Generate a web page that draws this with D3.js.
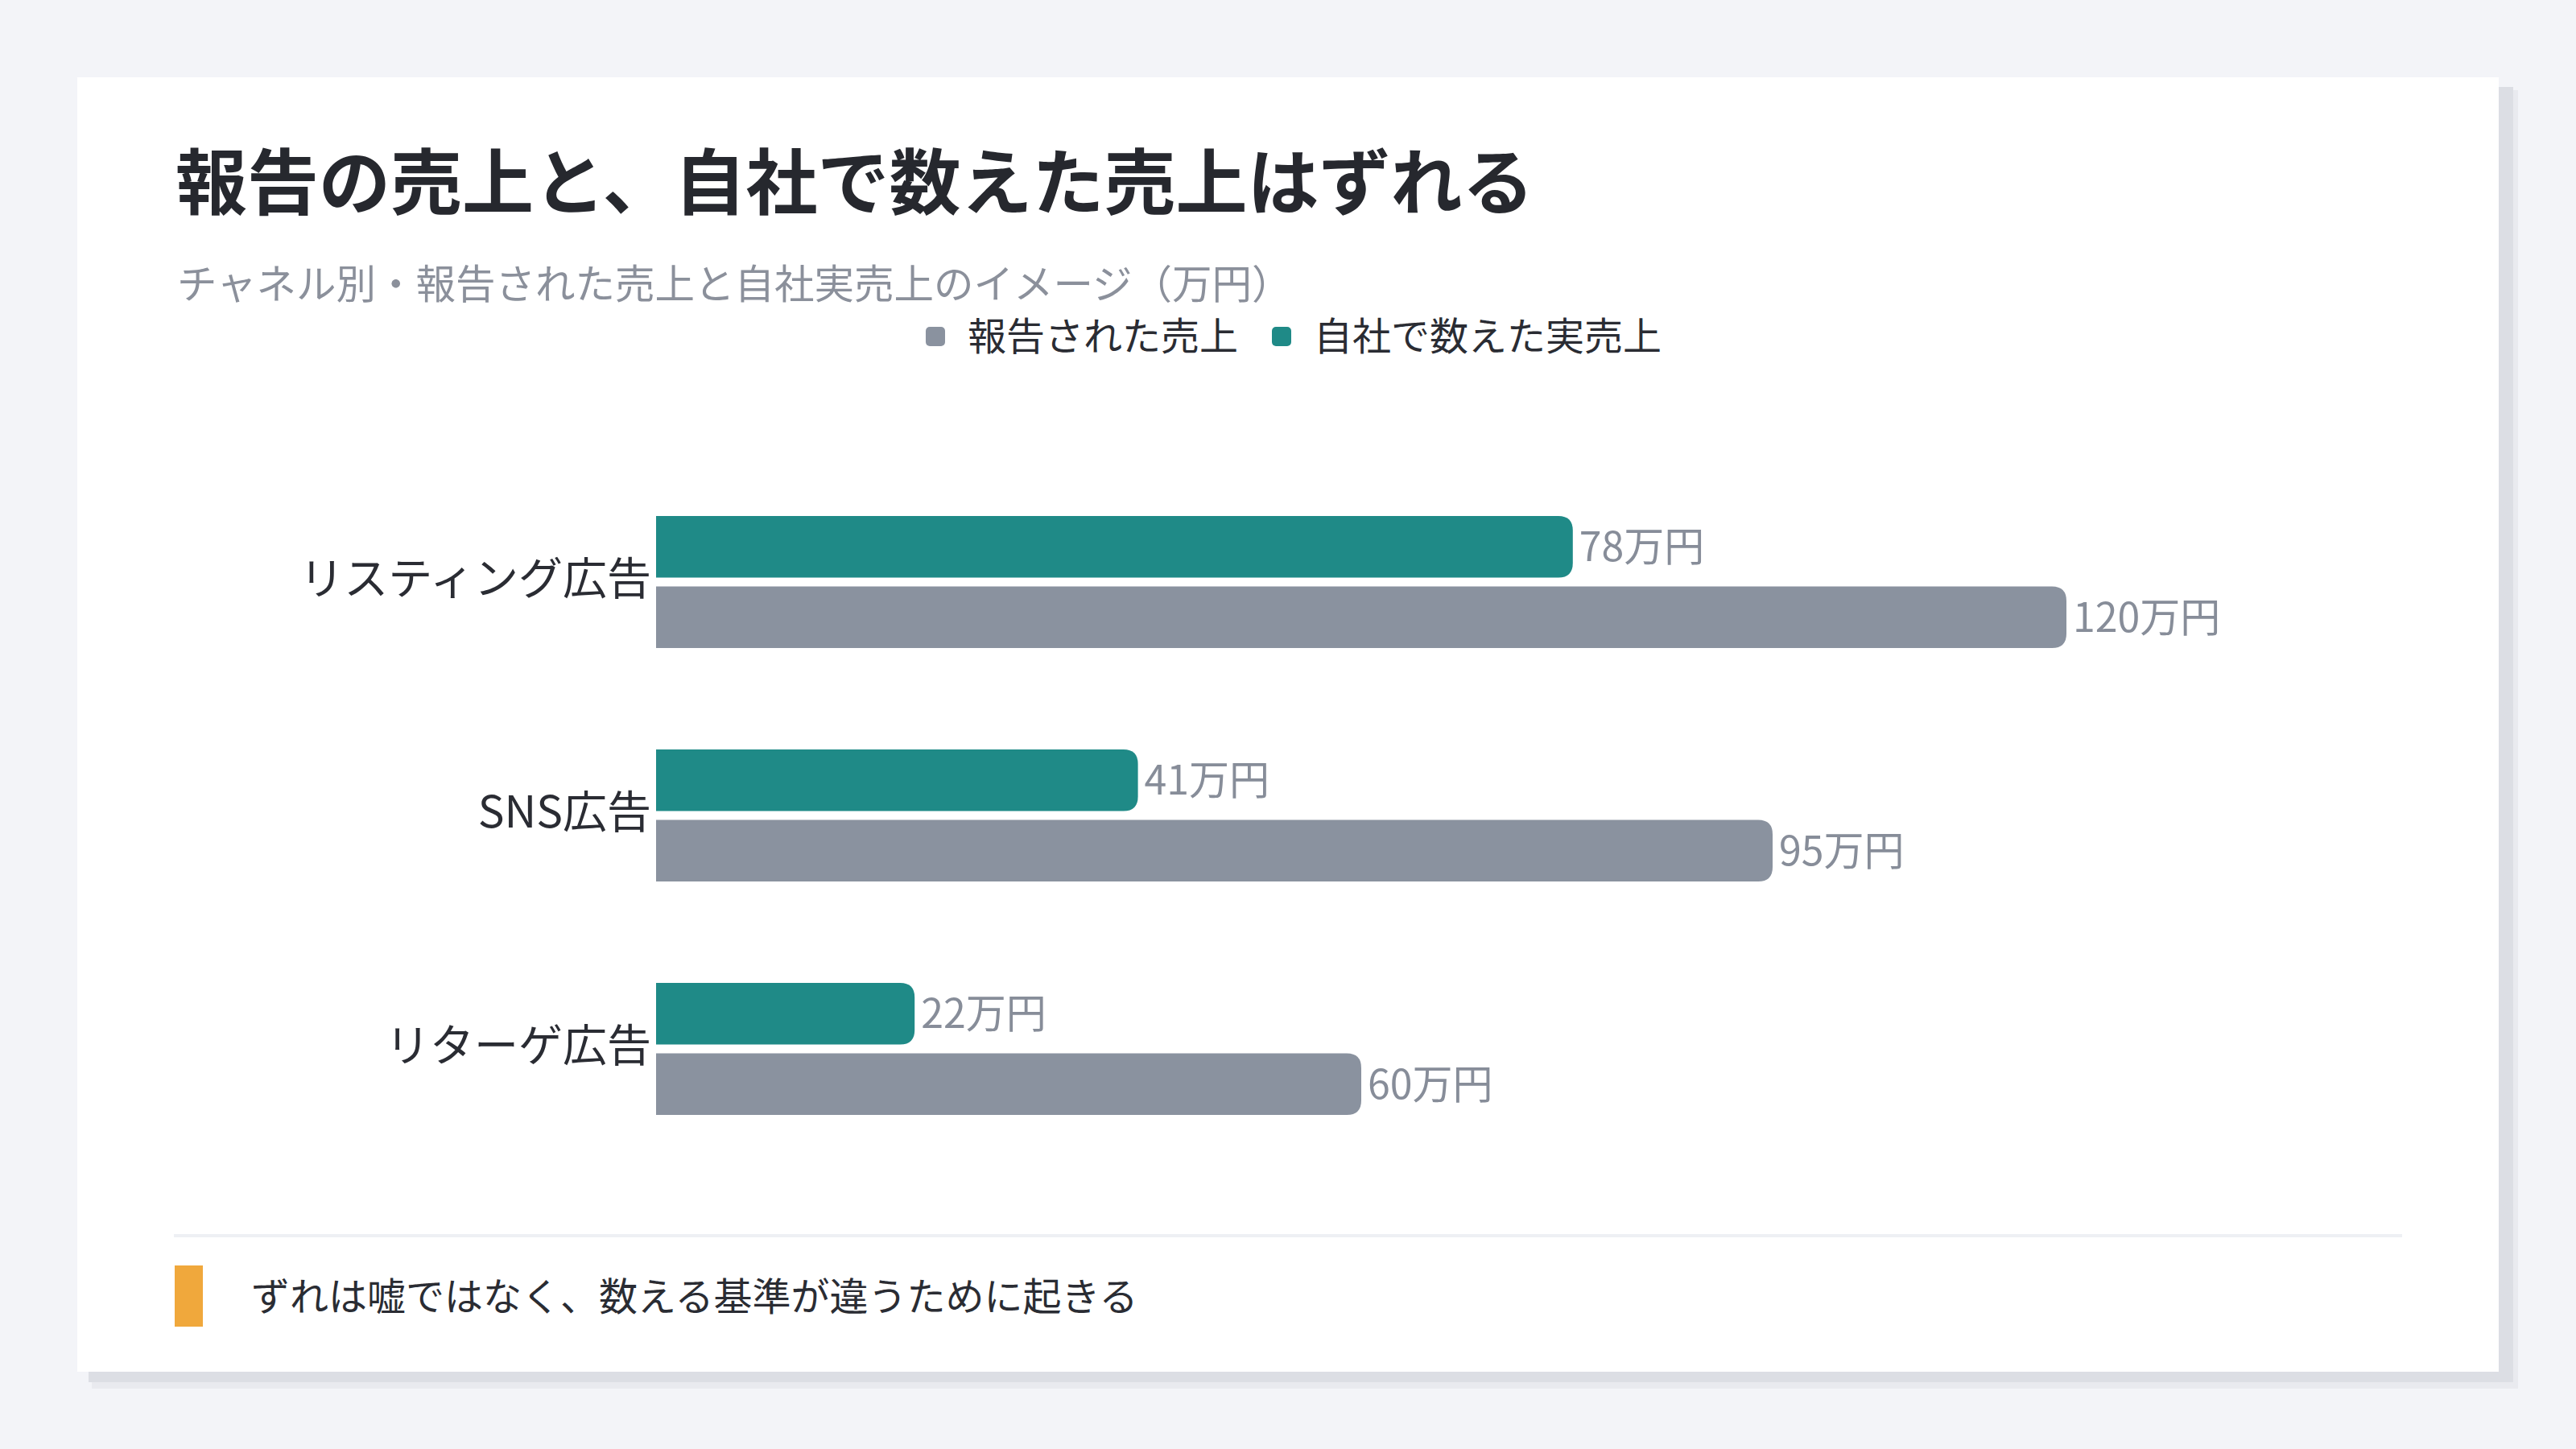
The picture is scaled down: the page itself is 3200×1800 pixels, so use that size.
<!DOCTYPE html>
<html>
<head>
<meta charset="utf-8">
<script src="https://cdn.jsdelivr.net/npm/d3@7"></script>
<style>
  html, body { margin: 0; padding: 0; background: #f3f4f8; }
  svg { display: block; font-family: "Noto Sans CJK JP", "Noto Sans", sans-serif; }
</style>
</head>
<body>
<script>
// channels and values (万円)
var channels = ["リスティング広告", "SNS広告", "リターゲ広告"];
var reported = [120, 95, 60];
var actual = [78, 41, 22];
var seriesNames = ["報告された売上", "自社で数えた実売上"];
var seriesColors = ["#8a929f", "#1f8a87"];
var unit = "万円";
var title = "報告の売上と、自社で数えた売上はずれる";
var subtitle = "チャネル別・報告された売上と自社実売上のイメージ（万円）";
var note = "ずれは嘘ではなく、数える基準が違うために起きる";

var W = 3200, H = 1800;

var svg = d3.select("body").append("svg")
  .attr("width", W)
  .attr("height", H);

// card + shadow
svg.append("rect").attr("x", 114).attr("y", 112).attr("width", 3014).attr("height", 1613).attr("fill", "#e9eaef");
svg.append("rect").attr("x", 110).attr("y", 108).attr("width", 3012).attr("height", 1609).attr("fill", "#dcdee4");
svg.append("rect").attr("x", 96).attr("y", 96).attr("width", 3008).attr("height", 1608).attr("fill", "#ffffff");

svg.append("text")
  .attr("x", 218).attr("y", 220)
  .attr("dominant-baseline", "central")
  .attr("font-size", 89).attr("font-weight", 700)
  .attr("fill", "#26282e")
  .text(title);

svg.append("text")
  .attr("x", 220).attr("y", 349)
  .attr("dominant-baseline", "central")
  .attr("font-size", 49.5)
  .attr("fill", "#8b909b")
  .text(subtitle);

// legend, centered around x=1607
var legend = svg.append("g");
var lx = 0;
var order = [0, 1];
order.forEach(function(i) {
  var item = legend.append("g").attr("transform", "translate(" + lx + ",0)");
  item.append("rect")
    .attr("x", 0).attr("y", -12)
    .attr("width", 24).attr("height", 24)
    .attr("rx", 5)
    .attr("fill", seriesColors[i]);
  var t = item.append("text")
    .attr("x", 52).attr("y", -4)
    .attr("dominant-baseline", "central")
    .attr("font-size", 48)
    .attr("fill", "#2a2c33")
    .text(seriesNames[i]);
  lx += 52 + t.node().getComputedTextLength() + 42;
});
var legendW = lx - 42;
legend.attr("transform", "translate(" + (1607 - legendW / 2) + ",418)");

// scales
var x = d3.scaleLinear()
  .domain([0, 120])
  .range([815, 2567]);

var y = d3.scaleBand()
  .domain(channels)
  .range([578, 1448])
  .paddingInner(0.434)
  .paddingOuter(0.217);

var sub = d3.scaleBand()
  .domain(["actual", "reported"])
  .range([0, y.bandwidth()])
  .paddingInner(0.126);

var rows = channels.map(function(c, i) {
  return [
    {ch: c, key: "actual", v: actual[i], color: seriesColors[1]},
    {ch: c, key: "reported", v: reported[i], color: seriesColors[0]}
  ];
});

// bar with rounded right end
function barPath(d) {
  var x0 = x(0), x1 = x(d.v);
  var y0 = y(d.ch) + sub(d.key), h = sub.bandwidth();
  var r = Math.min(18, h / 2);
  return "M" + x0 + "," + y0 +
    "H" + (x1 - r) +
    "Q" + x1 + "," + y0 + " " + x1 + "," + (y0 + r) +
    "V" + (y0 + h - r) +
    "Q" + x1 + "," + (y0 + h) + " " + (x1 - r) + "," + (y0 + h) +
    "H" + x0 + "Z";
}

var bars = svg.append("g").selectAll("g")
  .data(rows)
  .enter().append("g");

bars.selectAll("path")
  .data(function(d) { return d; })
  .enter().append("path")
  .attr("d", barPath)
  .attr("fill", function(d) { return d.color; });

bars.selectAll("text")
  .data(function(d) { return d; })
  .enter().append("text")
  .attr("x", function(d) { return x(d.v) + 8; })
  .attr("y", function(d) { return y(d.ch) + sub(d.key) + sub.bandwidth() / 2 - 4; })
  .attr("dominant-baseline", "central")
  .attr("font-size", 50)
  .attr("fill", "#878d99")
  .text(function(d) { return d.v + unit; });

// category axis
var yAxis = svg.append("g")
  .attr("transform", "translate(" + x(0) + ",0)")
  .call(d3.axisLeft(y).tickSize(0).tickPadding(6));
yAxis.select(".domain").remove();
yAxis.selectAll("text")
  .attr("font-size", 55)
  .attr("fill", "#2a2c33")
  .attr("font-family", "Noto Sans CJK JP")
  .attr("dy", "0.28em");

// divider and note
svg.append("rect")
  .attr("x", 216).attr("y", 1533)
  .attr("width", 2768).attr("height", 4)
  .attr("fill", "#eef0f4");

svg.append("rect")
  .attr("x", 217).attr("y", 1572)
  .attr("width", 35).attr("height", 76)
  .attr("fill", "#f0a83c");

svg.append("text")
  .attr("x", 312).attr("y", 1607)
  .attr("dominant-baseline", "central")
  .attr("font-size", 48)
  .attr("fill", "#2a2c33")
  .text(note);
</script>
</body>
</html>
